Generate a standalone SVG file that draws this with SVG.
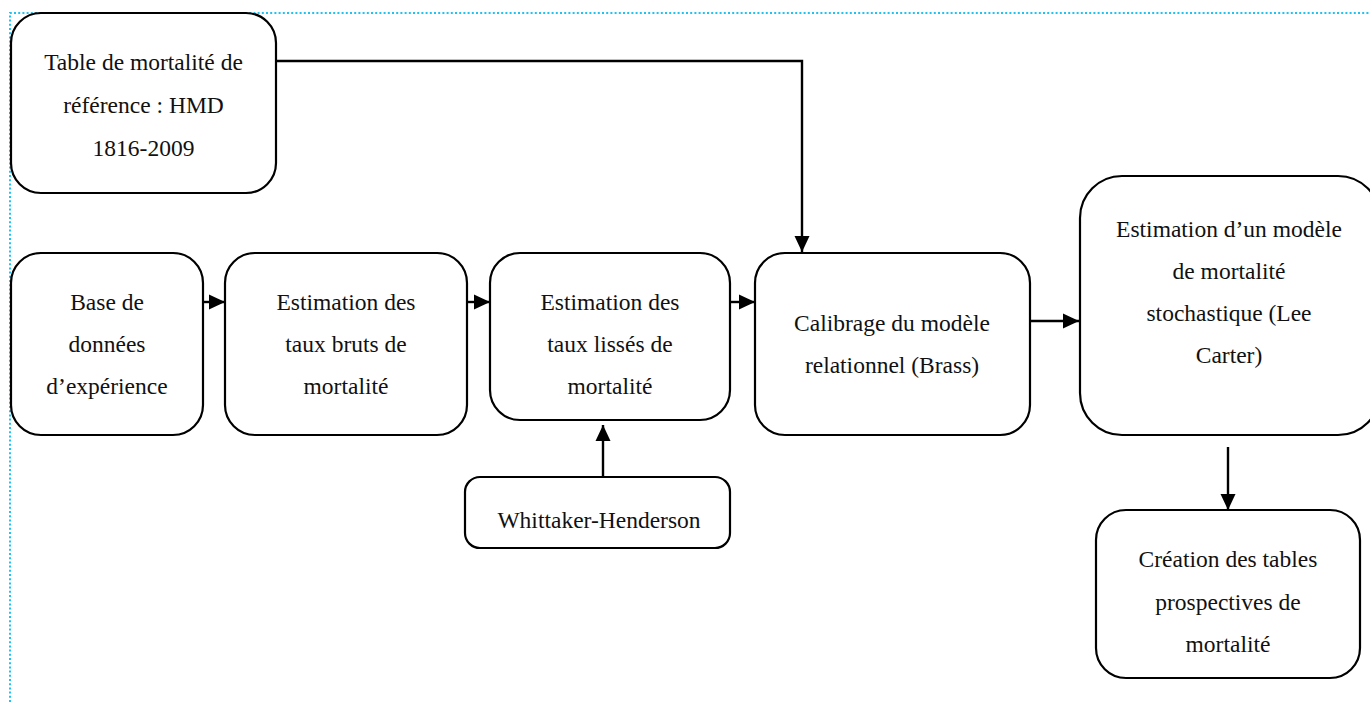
<svg xmlns="http://www.w3.org/2000/svg" width="1370" height="702" viewBox="0 0 1370 702">
<style>
.box{fill:#fff;stroke:#000;stroke-width:2.2}
.t{font-family:"Liberation Serif","Times New Roman",serif;font-size:23.5px;fill:#111;text-anchor:middle}
.c{fill:none;stroke:#000;stroke-width:2.4}
.frame{fill:none;stroke:#1EC3F2;stroke-width:2;stroke-dasharray:2 2.2}
</style>
<defs>
<marker id="ah" markerUnits="userSpaceOnUse" markerWidth="16" markerHeight="16" refX="16" refY="8" orient="auto">
<path d="M0,0.5 L16,8 L0,15.5 Z" fill="#000"/>
</marker>
</defs>
<rect width="1370" height="702" fill="#fff"/>
<path class="frame" d="M10,702 V13 H1370"/>
<g id="connectors">
<path class="c" d="M276,61 H802 V252" marker-end="url(#ah)"/>
<path class="c" d="M203,302 H225" marker-end="url(#ah)"/>
<path class="c" d="M467,302 H490" marker-end="url(#ah)"/>
<path class="c" d="M730,302 H755" marker-end="url(#ah)"/>
<path class="c" d="M1030,321 H1079" marker-end="url(#ah)"/>
<path class="c" d="M603,477 V425" marker-end="url(#ah)"/>
<path class="c" d="M1228,447 V510" marker-end="url(#ah)"/>
</g>
<g id="n-hmd">
<rect class="box" x="11" y="13" width="265" height="180" rx="30"/>
<text class="t" x="143.5" y="70">Table de mortalité de</text>
<text class="t" x="143.5" y="113">référence : HMD</text>
<text class="t" x="143.5" y="156">1816-2009</text>
</g>
<g id="n-base">
<rect class="box" x="11" y="253" width="192" height="182" rx="30"/>
<text class="t" x="107" y="310">Base de</text>
<text class="t" x="107" y="352">données</text>
<text class="t" x="107" y="394">d’expérience</text>
</g>
<g id="n-bruts">
<rect class="box" x="225" y="253" width="242" height="182" rx="30"/>
<text class="t" x="346" y="310">Estimation des</text>
<text class="t" x="346" y="352">taux bruts de</text>
<text class="t" x="346" y="394">mortalité</text>
</g>
<g id="n-lisses">
<rect class="box" x="490" y="253" width="240" height="167" rx="30"/>
<text class="t" x="610" y="310">Estimation des</text>
<text class="t" x="610" y="352">taux lissés de</text>
<text class="t" x="610" y="394">mortalité</text>
</g>
<g id="n-brass">
<rect class="box" x="755" y="253" width="275" height="182" rx="30"/>
<text class="t" x="892" y="331">Calibrage du modèle</text>
<text class="t" x="892" y="373">relationnel (Brass)</text>
</g>
<g id="n-whittaker">
<rect class="box" x="465" y="477" width="265" height="71" rx="15"/>
<text class="t" x="599" y="528">Whittaker-Henderson</text>
</g>
<g id="n-leecarter">
<rect class="box" x="1080" y="176" width="300" height="259" rx="42"/>
<text class="t" x="1229" y="237">Estimation d’un modèle</text>
<text class="t" x="1229" y="279">de mortalité</text>
<text class="t" x="1229" y="321">stochastique (Lee</text>
<text class="t" x="1229" y="363">Carter)</text>
</g>
<g id="n-tables">
<rect class="box" x="1096" y="510" width="264" height="168" rx="30"/>
<text class="t" x="1228" y="567">Création des tables</text>
<text class="t" x="1228" y="610">prospectives de</text>
<text class="t" x="1228" y="652">mortalité</text>
</g>
</svg>
